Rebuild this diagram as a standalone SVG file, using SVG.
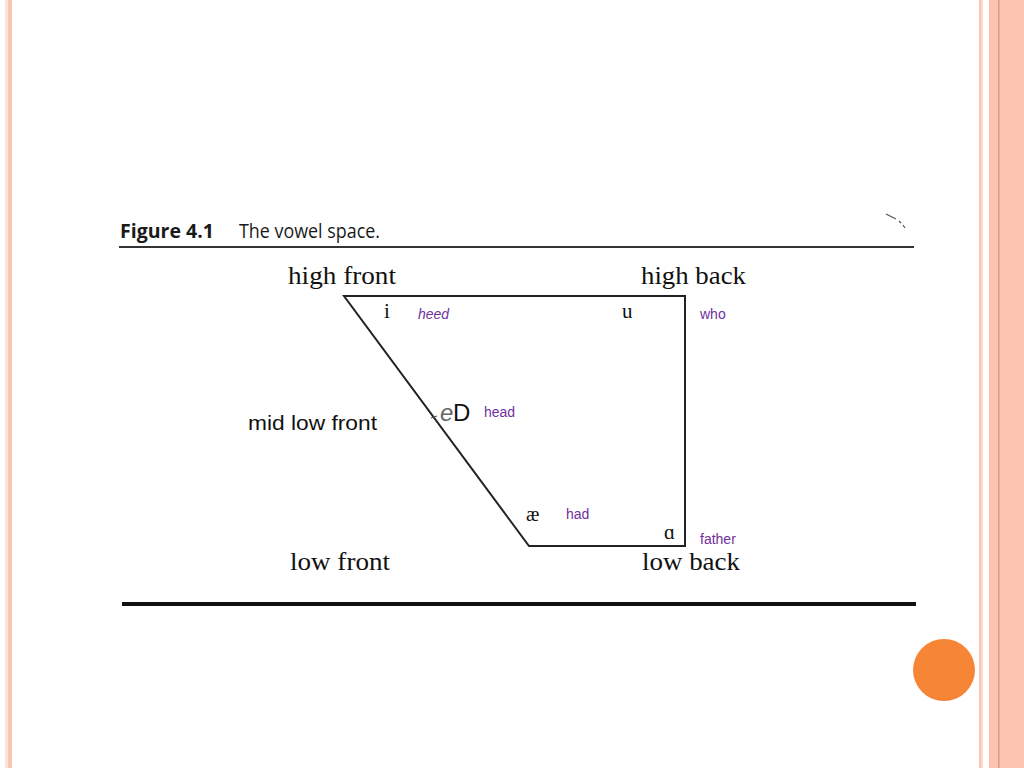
<svg xmlns="http://www.w3.org/2000/svg" width="1024" height="768" viewBox="0 0 1024 768">
<style>
.serif{font-family:"Liberation Serif","Times New Roman",serif;fill:#111}
.sans{font-family:"Liberation Sans",Arial,sans-serif}
.cap{font-family:"Open Sans","Liberation Sans",sans-serif;fill:#1a1a1a}
.word{font-family:"Liberation Sans",Arial,sans-serif;font-size:14px;fill:#7030A0}
.edge{fill:none;stroke:#222;stroke-width:2}
</style>
<rect width="1024" height="768" fill="#ffffff"/>
<g id="border-left">
<rect x="5" y="0" width="3" height="768" fill="#fbe5d8"/>
<rect x="8" y="0" width="4" height="768" fill="#fcc4b4"/>
</g>
<g id="border-right">
<rect x="979" y="0" width="2" height="768" fill="#fcc4b4"/>
<rect x="981" y="0" width="2" height="768" fill="#fdd9cc"/>
<rect x="989" y="0" width="35" height="768" fill="#fcc4b0"/>
<rect x="998" y="0" width="1.5" height="768" fill="#e09a80"/>
</g>
<g id="caption">
<text x="120" y="238" class="cap" font-size="19.5" font-weight="bold" textLength="94" lengthAdjust="spacingAndGlyphs">Figure 4.1</text>
<text x="239" y="238" class="cap" font-size="19.5" textLength="141" lengthAdjust="spacingAndGlyphs">The vowel space.</text>
<line x1="119" y1="247" x2="914" y2="247" stroke="#333" stroke-width="2"/>
<path d="M886 214 L896 219 M899 221 L901 223 M903 225 L905 228" stroke="#555" stroke-width="1.2" fill="none"/>
</g>
<g id="connectors">
<path class="edge" d="M344 296 L685 296 L685 546 L529 546 Z"/>
<line x1="122" y1="604" x2="916" y2="604" stroke="#111" stroke-width="4"/>
</g>
<g id="node-high-front"><text x="288" y="284" class="serif" font-size="26" textLength="108" lengthAdjust="spacingAndGlyphs">high front</text></g>
<g id="node-high-back"><text x="641" y="284" class="serif" font-size="26" textLength="105" lengthAdjust="spacingAndGlyphs">high back</text></g>
<g id="node-low-front"><text x="290" y="570" class="serif" font-size="26" textLength="100" lengthAdjust="spacingAndGlyphs">low front</text></g>
<g id="node-low-back"><text x="642" y="570" class="serif" font-size="26" textLength="98" lengthAdjust="spacingAndGlyphs">low back</text></g>
<g id="node-i">
<text x="384" y="318" class="serif" font-size="21">i</text>
<text x="418" y="319" class="word" font-style="italic">heed</text>
</g>
<g id="node-u">
<text x="622" y="318" class="serif" font-size="21">u</text>
<text x="700" y="319" class="word">who</text>
</g>
<g id="node-mid">
<text x="248" y="430" class="sans" font-size="21" fill="#111" textLength="129" lengthAdjust="spacingAndGlyphs">mid low front</text>
<line x1="431" y1="418" x2="437" y2="416" stroke="#555" stroke-width="1.2"/>
<text x="440" y="421" class="sans" font-size="24" font-style="italic" fill="#666">e</text>
<text x="453" y="421" class="sans" font-size="24" fill="#111">D</text>
<text x="484" y="417" class="word">head</text>
</g>
<g id="node-ae">
<text x="526" y="521" class="serif" font-size="20">æ</text>
<text x="566" y="519" class="word">had</text>
</g>
<g id="node-a">
<text x="664" y="539" class="serif" font-size="21">ɑ</text>
<text x="700" y="544" class="word">father</text>
</g>
<g id="decoration">
<circle cx="944" cy="670" r="31" fill="#f78536"/>
</g>
</svg>
